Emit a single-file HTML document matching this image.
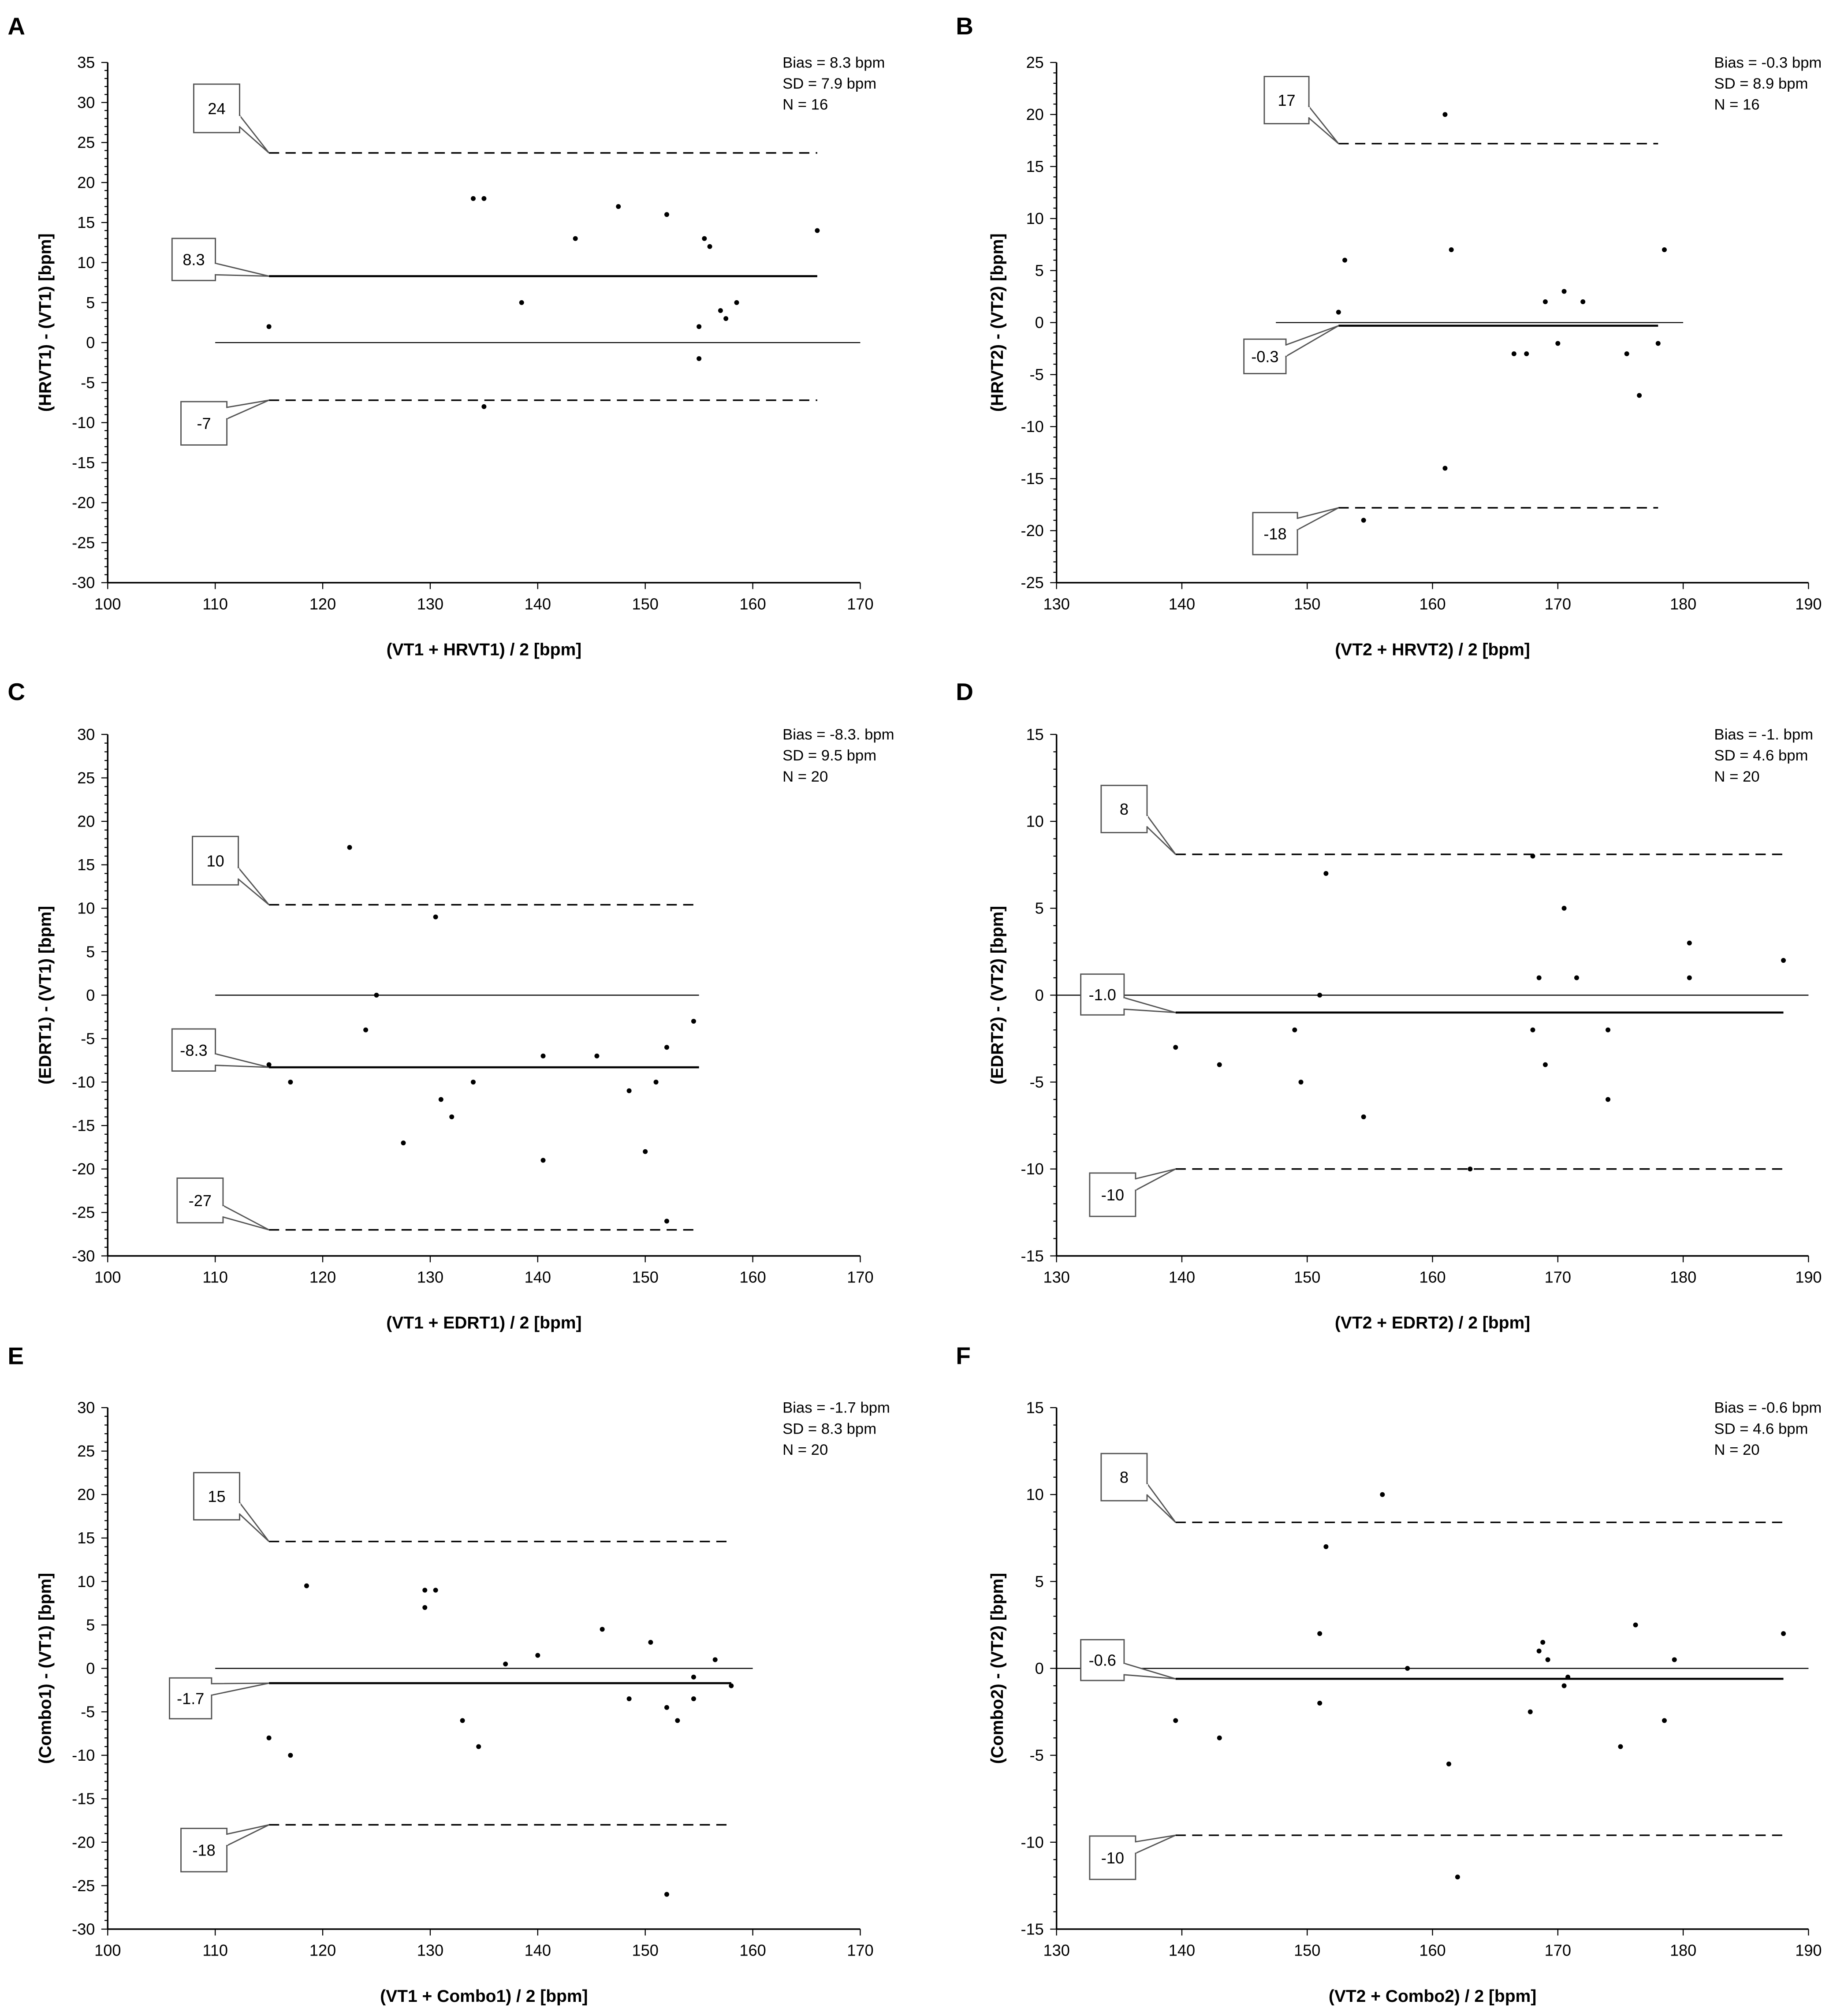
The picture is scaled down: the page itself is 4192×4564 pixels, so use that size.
<!DOCTYPE html>
<html><head><meta charset="utf-8"><style>html,body{margin:0;padding:0;background:#fff}svg{display:block}text{font-family:"Liberation Sans",sans-serif}</style></head>
<body>
<svg id="fig" width="4192" height="4564" viewBox="0 0 1450 1578" preserveAspectRatio="none" xmlns="http://www.w3.org/2000/svg"></svg>
<script>
// Panel A data
const aX=[115,134,135,138.5,135,143.5,147.5,152,155.5,156,155,155,157,157.5,158.5,166];
const aY=[2,18,18,5,-8,13,17,16,13,12,2,-2,4,3,5,14];
const aLines=[8.3,23.7,-7.2];
const aLabels=["8.3","24","-7"];
// Panel B data
const bX=[161,153,152.5,161.5,154.5,161,166.5,167.5,169,170,170.5,172,175.5,176.5,178,178.5];
const bY=[20,6,1,7,-19,-14,-3,-3,2,-2,3,2,-3,-7,-2,7];
const bLines=[-0.3,17.2,-17.8];
const bLabels=["-0.3","17","-18"];
// Panel C data
const cX=[122.5,130.5,125,124,115,117,127.5,131,132,134,140.5,140.5,145.5,148.5,150,151,152,152,154.5];
const cY=[17,9,0,-4,-8,-10,-17,-12,-14,-10,-7,-19,-7,-11,-18,-10,-6,-26,-3];
const cLines=[-8.3,10.4,-27];
const cLabels=["-8.3","10","-27"];
// Panel D data
const dX=[139.5,143,149,149.5,151,151.5,154.5,163,168,168,168.5,169,170.5,171.5,174,174,180.5,180.5,188];
const dY=[-3,-4,-2,-5,0,7,-7,-10,8,-2,1,-4,5,1,-2,-6,3,1,2];
const dLines=[-1.0,8.1,-10];
const dLabels=["-1.0","8","-10"];
// Panel E data
const eX=[115,117,118.5,129.5,129.5,130.5,133,134.5,137,140,146,148.5,150.5,152,153,154.5,154.5,156.5,158,152];
const eY=[-8,-10,9.5,9,7,9,-6,-9,0.5,1.5,4.5,-3.5,3,-4.5,-6,-1,-3.5,1,-2,-26];
const eLines=[-1.7,14.6,-18];
const eLabels=["-1.7","15","-18"];
// Panel F data
const fX=[139.5,143,151,151,151.5,156,158,161.3,162,167.8,168.5,168.8,169.2,170.5,170.8,175,176.2,178.5,179.3,188];
const fY=[-3,-4,2,-2,7,10,0,-5.5,-12,-2.5,1,1.5,0.5,-1,-0.5,-4.5,2.5,-3,0.5,2];
const fLines=[-0.6,8.4,-9.6];
const fLabels=["-0.6","8","-10"];

const NS="http://www.w3.org/2000/svg";
const svg=document.getElementById('fig');
function mk(tag,attrs,parent,txt){const e=document.createElementNS(NS,tag);for(const k in attrs)e.setAttribute(k,attrs[k]);if(txt!==undefined)e.textContent=txt;(parent||svg).appendChild(e);return e;}

const panels=[
 {id:'a',letter:'A',lx:6,ly:27,x0:84.5,x1:675,y0:49,y1:457,xmin:100,xmax:170,ymin:-30,ymax:35,yt:40,
  xs:aX,ys:aY,lines:aLines,labels:aLabels,z:[110,170],lr:[115,166],
  boxes:[[135,187,34,33],[152,66,36,38],[142,315,36,34]],stx:614,
  st:["Bias = 8.3 bpm","SD = 7.9 bpm","N = 16"],xtitle:"(VT1 + HRVT1) / 2 [bpm]",ytitle:"(HRVT1) - (VT1) [bpm]"},
 {id:'b',letter:'B',lx:750,ly:27,x0:829,x1:1419,y0:49,y1:457,xmin:130,xmax:190,ymin:-25,ymax:25,yt:787,
  xs:bX,ys:bY,lines:bLines,labels:bLabels,z:[147.5,180],lr:[152.5,178],
  boxes:[[976,266,33,27],[992,60,35,37],[983,402,35,33]],stx:1345,
  st:["Bias = -0.3 bpm","SD = 8.9 bpm","N = 16"],xtitle:"(VT2 + HRVT2) / 2 [bpm]",ytitle:"(HRVT2) - (VT2) [bpm]"},
 {id:'c',letter:'C',lx:6,ly:549,x0:84.5,x1:675,y0:576,y1:985,xmin:100,xmax:170,ymin:-30,ymax:30,yt:40,
  xs:cX,ys:cY,lines:cLines,labels:cLabels,z:[110,155],lr:[115,155],
  boxes:[[135,807,34,33],[151,656,36,38],[139,924,36,35]],stx:614,
  st:["Bias = -8.3. bpm","SD = 9.5 bpm","N = 20"],xtitle:"(VT1 + EDRT1) / 2 [bpm]",ytitle:"(EDRT1) - (VT1) [bpm]"},
 {id:'d',letter:'D',lx:750,ly:549,x0:829,x1:1419,y0:576,y1:985,xmin:130,xmax:190,ymin:-15,ymax:15,yt:787,
  xs:dX,ys:dY,lines:dLines,labels:dLabels,z:[130,190],lr:[139.5,188],
  boxes:[[848,764,34,32],[864,616,36,37],[855,920,36,34]],stx:1345,
  st:["Bias = -1. bpm","SD = 4.6 bpm","N = 20"],xtitle:"(VT2 + EDRT2) / 2 [bpm]",ytitle:"(EDRT2) - (VT2) [bpm]"},
 {id:'e',letter:'E',lx:6,ly:1070,x0:84.5,x1:675,y0:1104,y1:1513,xmin:100,xmax:170,ymin:-30,ymax:30,yt:40,
  xs:eX,ys:eY,lines:eLines,labels:eLabels,z:[110,160],lr:[115,158],
  boxes:[[133,1316,33,32],[152,1155,36,37],[142,1434,36,34]],stx:614,
  st:["Bias = -1.7 bpm","SD = 8.3 bpm","N = 20"],xtitle:"(VT1 + Combo1) / 2 [bpm]",ytitle:"(Combo1) - (VT1) [bpm]"},
 {id:'f',letter:'F',lx:750,ly:1070,x0:829,x1:1419,y0:1104,y1:1513,xmin:130,xmax:190,ymin:-15,ymax:15,yt:787,
  xs:fX,ys:fY,lines:fLines,labels:fLabels,z:[130,190],lr:[139.5,188],
  boxes:[[848,1286,34,32],[864,1140,36,37],[855,1440,36,34]],stx:1345,
  st:["Bias = -0.6 bpm","SD = 4.6 bpm","N = 20"],xtitle:"(VT2 + Combo2) / 2 [bpm]",ytitle:"(Combo2) - (VT2) [bpm]"}
];

panels.forEach(p=>{
  const g=mk('g',{});
  
  
  const sx=v=>p.x0+(v-p.xmin)/(p.xmax-p.xmin)*(p.x1-p.x0);
  const sy=v=>p.y1-(v-p.ymin)/(p.ymax-p.ymin)*(p.y1-p.y0);
  const L=mk('text',{x:p.lx,y:p.ly,'font-size':19,'font-weight':'bold'},g,p.letter);
  
  
  const ya=mk('line',{x1:p.x0,y1:p.y0,x2:p.x0,y2:p.y1,stroke:'#000','stroke-width':1.2},g);
  
  
  const xa=mk('line',{x1:p.x0,y1:p.y1,x2:p.x1,y2:p.y1,stroke:'#000','stroke-width':1.2},g);
  
  
  for(let v=p.ymin;v<=p.ymax;v++){
    const major=(v%5===0);
    mk('line',{x1:p.x0-(major?5:2.5),y1:sy(v),x2:p.x0,y2:sy(v),stroke:'#000','stroke-width':0.8},g);
    if(major){const t=mk('text',{x:p.x0-10,y:sy(v)+4.3,'font-size':12.5,'text-anchor':'end'},g,String(v));
      
      }
  }
  for(let v=p.xmin;v<=p.xmax;v+=10){
    mk('line',{x1:sx(v),y1:p.y1,x2:sx(v),y2:p.y1+5,stroke:'#000','stroke-width':0.8},g);
    const t=mk('text',{x:sx(v),y:p.y1+21,'font-size':12.5,'text-anchor':'middle'},g,String(v));
    
    
  }
  const xt=mk('text',{x:(p.x0+p.x1)/2,y:p.y1+57,'font-size':13.5,'font-weight':'bold','text-anchor':'middle'},g,p.xtitle);
  
  
  const cy=(p.y0+p.y1)/2;
  const yt=mk('text',{x:p.yt,y:cy,'font-size':13.5,'font-weight':'bold','text-anchor':'middle',transform:`rotate(-90 ${p.yt} ${cy})`},g,p.ytitle);
  
  
  p.st.forEach((s,i)=>{const t=mk('text',{x:p.stx,y:p.y0+4+i*16.5,'font-size':12},g,s);
    
    });
  const zl=mk('line',{x1:sx(p.z[0]),y1:sy(0),x2:sx(p.z[1]),y2:sy(0),stroke:'#000','stroke-width':0.8},g);
  
  
  p.lines.forEach((v,i)=>{
    const ln=mk('line',{x1:sx(p.lr[0]),y1:sy(v),x2:sx(p.lr[1]),y2:sy(v),stroke:'#000','stroke-width':i===0?1.6:1.2},g);
    if(i>0)ln.setAttribute('stroke-dasharray','8,5');
    
    
    const b=p.boxes[i];const px=sx(p.lr[0]),py=sy(v);const rx=b[0]+b[2];
    const m=Math.max(b[1]+9,Math.min(b[1]+b[3]-9,py));
    const cg=mk('g',{},g);
    
    
    mk('rect',{x:b[0],y:b[1],width:b[2],height:b[3],fill:'#fff',stroke:'#555','stroke-width':1},cg);
    mk('polygon',{points:`${rx},${m-4.5} ${px},${py} ${rx},${m+4.5}`,fill:'#fff',stroke:'#555','stroke-width':1},cg);
    mk('line',{x1:rx,y1:m-4,x2:rx,y2:m+4,stroke:'#fff','stroke-width':1.5},cg);
    mk('text',{x:b[0]+b[2]/2,y:b[1]+b[3]/2+4.5,'font-size':12.5,'text-anchor':'middle'},cg,p.labels[i]);
  });
  p.xs.forEach((x,i)=>{
    const c=mk('circle',{cx:sx(x),cy:sy(p.ys[i]),r:1.9,fill:'#000'},g);
    
    
  });
});
</script>
</body></html>
